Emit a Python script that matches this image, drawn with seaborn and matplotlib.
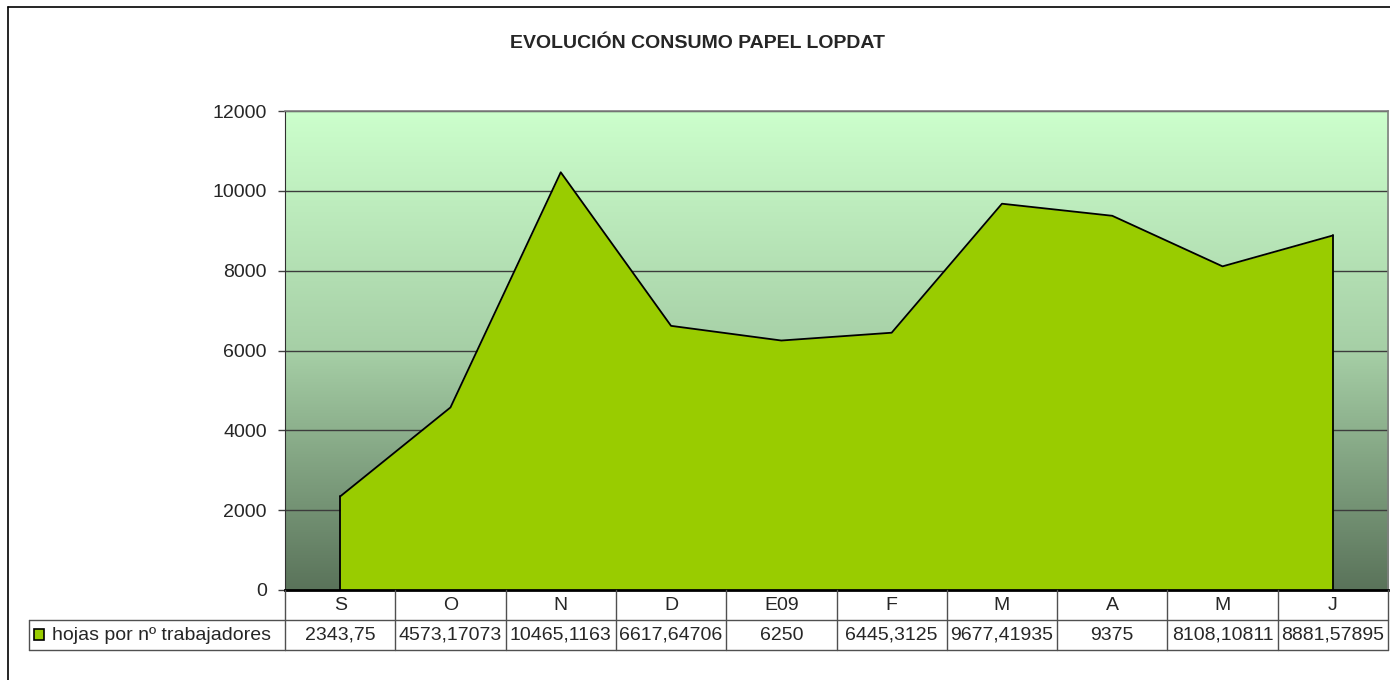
import numpy as np
import pandas as pd
import matplotlib.pyplot as plt
import seaborn as sns
from matplotlib.colors import LinearSegmentedColormap
from matplotlib.lines import Line2D
from matplotlib.patches import Rectangle

months = ['S', 'O', 'N', 'D', 'E09', 'F', 'M', 'A', 'M', 'J']
hojas = [2343.75, 4573.17073, 10465.1163, 6617.64706, 6250,
         6445.3125, 9677.41935, 9375, 8108.10811, 8881.57895]
series_name = 'hojas por nº trabajadores'
title = 'EVOLUCIÓN CONSUMO PAPEL LOPDAT'
yticks = [0, 2000, 4000, 6000, 8000, 10000, 12000]

sns.set_style('white')
plt.rcParams['font.family'] = ['Liberation Sans', 'DejaVu Sans']
FS = 14

df = pd.DataFrame({'pos': np.arange(len(months)), 'mes': months, 'valor': hojas})

W, H = 1390, 680
fig = plt.figure(figsize=(W / 100, H / 100), dpi=100)

def fx(px):
    return px / W

def fy(py):
    return 1 - py / H

# outer chart frame
fig.add_artist(Line2D([fx(8), fx(8)], [fy(7), 0], color='black', lw=1.2))
fig.add_artist(Line2D([fx(8), 1], [fy(7), fy(7)], color='black', lw=1.2))

fig.text(fx(698), fy(43), title, ha='center', va='center',
         fontsize=FS, fontweight='bold')

# plot area
ax = fig.add_axes([fx(285), fy(590), fx(1388) - fx(285), fy(111) - fy(590)])
ax.set_xlim(-0.5, len(months) - 0.5)
ax.set_ylim(0, 12000)

# gradient background
grad = LinearSegmentedColormap.from_list('bg', ['#5a735a', '#a6cfa6', '#ccffcc'])
ax.imshow(np.linspace(0, 1, 256).reshape(-1, 1), cmap=grad, origin='lower',
          extent=[-0.5, len(months) - 0.5, 0, 12000], aspect='auto', zorder=0)

for t in yticks[1:]:
    ax.axhline(t, color='#3c3c3c', lw=1, zorder=1)

ax.fill_between(df['pos'], 0, df['valor'], color='#99cc00', zorder=2, lw=0)
sns.lineplot(data=df, x='pos', y='valor', color='black', lw=1.3, ax=ax, zorder=3)
ax.plot([df['pos'].iloc[0]] * 2, [0, df['valor'].iloc[0]], color='black', lw=1.3, zorder=3)
ax.plot([df['pos'].iloc[-1]] * 2, [0, df['valor'].iloc[-1]], color='black', lw=1.3, zorder=3)

ax.set_yticks(yticks)
ax.set_yticklabels([str(t) for t in yticks], fontsize=FS)
ax.set_xticks([])
ax.set_xlabel('')
ax.set_ylabel('')
ax.tick_params(axis='y', length=5, width=1, color='#404040', pad=8, left=True)
ax.spines['left'].set_color('#303030')
ax.spines['bottom'].set_color('black')
ax.spines['bottom'].set_linewidth(2)
ax.spines['bottom'].set_zorder(5)
for s in ['top', 'right']:
    ax.spines[s].set_color('#808080')
    ax.spines[s].set_linewidth(1.2)

# data table
tab = fig.add_axes([fx(285), fy(650), fx(1388) - fx(285), fy(590) - fy(650)])
tab.set_xlim(-0.5, len(months) - 0.5)
tab.set_ylim(0, 2)
tab.axis('off')
lc = '#505050'
for i in range(len(months) + 1):
    tab.plot([i - 0.5, i - 0.5], [0, 2], color=lc, lw=1, clip_on=False)
tab.plot([-0.5, len(months) - 0.5], [1, 1], color=lc, lw=1, clip_on=False)
tab.plot([-0.5, len(months) - 0.5], [0, 0], color=lc, lw=1, clip_on=False)
for i, (m, v) in enumerate(zip(months, hojas)):
    tab.text(i, 1.5, m, ha='center', va='center', fontsize=FS)
    tab.text(i, 0.5, ('%.10g' % v).replace('.', ','), ha='center', va='center', fontsize=FS)

# legend cell of the table
fig.add_artist(Line2D([fx(29), fx(285)], [fy(620), fy(620)], color=lc, lw=1))
fig.add_artist(Line2D([fx(29), fx(285)], [fy(650), fy(650)], color=lc, lw=1))
fig.add_artist(Line2D([fx(29), fx(29)], [fy(620), fy(650)], color=lc, lw=1))
fig.add_artist(Rectangle((fx(34), fy(640)), fx(10), fy(629) - fy(640),
                         facecolor='#99cc00', edgecolor='black', lw=1.2))
fig.text(fx(52), fy(635), series_name, ha='left', va='center', fontsize=FS)

fig.savefig('out.png', dpi=100)
